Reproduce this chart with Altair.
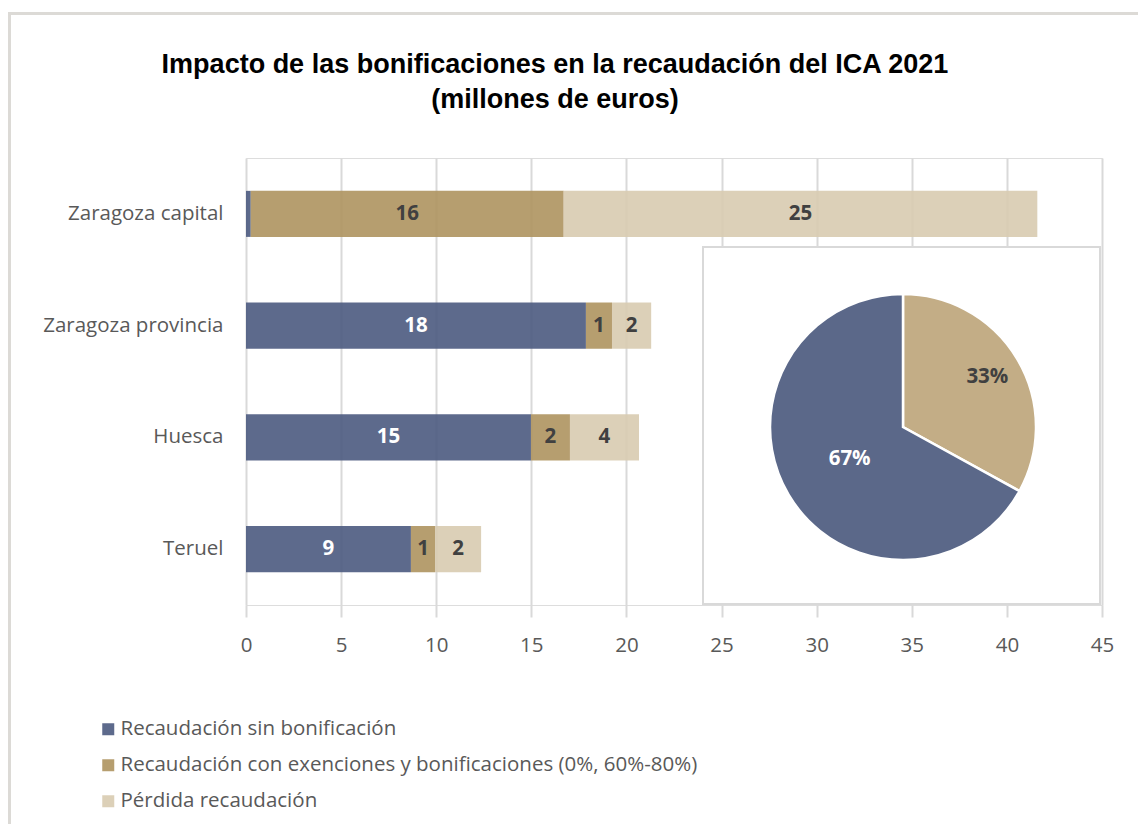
import altair as alt
import pandas as pd

categories = ["Zaragoza capital", "Zaragoza provincia", "Huesca", "Teruel"]
series = [
    "Recaudación sin bonificación",
    "Recaudación con exenciones y bonificaciones (0%, 60%-80%)",
    "Pérdida recaudación",
]
sin_bonif = [0.25, 17.87, 14.98, 8.67]
con_bonif = [16.45, 1.37, 2.05, 1.27]
perdida = [24.9, 2.06, 3.63, 2.42]

pie_names = ["Recaudación con exenciones y bonificaciones", "Recaudación sin bonificación"]
pie_values = [33, 67]
pie_label_radius = [98, 62]

title_lines = ["Impacto de las bonificaciones  en la recaudación del ICA 2021",
               "(millones de euros)"]

x_ticks = [0, 5, 10, 15, 20, 25, 30, 35, 40, 45]

bar_colors = ["#4B5A80", "#AE935F", "#D8CBB0"]
pie_colors = ["#C3AD86", "#5B6889"]

rows = []
for i, cat in enumerate(categories):
    for j, vals in enumerate([sin_bonif, con_bonif, perdida]):
        rows.append({"cat": cat, "serie": series[j], "ord": j, "value": vals[i]})
df = pd.DataFrame(rows)

pie_df = pd.DataFrame({"name": pie_names, "value": pie_values, "ord": [0, 1],
                       "r": pie_label_radius})

FONT = "Open Sans"
FS = 20.5
CX, CY = 657, 269
TWO_PI = 6.283185307179586

border = alt.Chart(pd.DataFrame({"a": [0]})).mark_rect(
    fill=None, stroke="#DCDAD6", strokeWidth=3
).encode(x=alt.value(-236.5), x2=alt.value(930), y=alt.value(-144.5), y2=alt.value(700))

title1 = alt.Chart(pd.DataFrame({"t": [title_lines[0]]})).mark_text(
    fontSize=27, fontWeight="bold", font="Liberation Sans", color="#000000", baseline="middle"
).encode(text="t:N", x=alt.value(309), y=alt.value(-93))
title2 = alt.Chart(pd.DataFrame({"t": [title_lines[1]]})).mark_text(
    fontSize=27, fontWeight="bold", font="Liberation Sans", color="#000000", baseline="middle"
).encode(text="t:N", x=alt.value(309), y=alt.value(-58))

bars = alt.Chart(df).mark_bar(opacity=0.9).encode(
    y=alt.Y("cat:N", sort=categories,
            scale=alt.Scale(paddingInner=0.588, paddingOuter=0.294),
            axis=alt.Axis(title=None, ticks=False, domain=False, labelFontSize=FS,
                          labelColor="#595959", labelFont=FONT, labelPadding=23,
                          labelLimit=400)),
    x=alt.X("value:Q", stack="zero",
            scale=alt.Scale(domain=[0, 45], nice=False),
            axis=alt.Axis(title=None, values=x_ticks, grid=True, gridColor="#D9D9D9",
                          gridWidth=2, tickColor="#D9D9D9", tickWidth=2, tickSize=12,
                          domain=False, labelFontSize=FS, labelColor="#595959",
                          labelFont=FONT, labelPadding=18, labelFlush=False)),
    color=alt.Color("serie:N", scale=alt.Scale(domain=series, range=bar_colors),
                    legend=alt.Legend(title=None, orient="none", legendX=-148, legendY=561,
                                      direction="vertical", symbolType="square",
                                      symbolSize=144, symbolStrokeWidth=0,
                                      labelFontSize=FS, labelColor="#595959",
                                      labelFont=FONT, rowPadding=15, labelLimit=900,
                                      labelOffset=2, symbolOpacity=0.9)),
    order=alt.Order("ord:Q"),
)

labels = alt.Chart(df).transform_stack(
    stack="value", groupby=["cat"], as_=["x0", "x1"], sort=[alt.SortField("ord")]
).transform_calculate(
    mid="(datum.x0 + datum.x1) / 2", label="format(datum.value, '.0f')"
).transform_filter("datum.value >= 0.5").mark_text(
    fontSize=FS, fontWeight="bold", font=FONT
).encode(
    y=alt.Y("cat:N", sort=categories),
    x=alt.X("mid:Q"),
    text="label:N",
    color=alt.condition(alt.datum.ord == 0, alt.value("white"), alt.value("#404040")),
)

box = alt.Chart(pd.DataFrame({"a": [0]})).mark_rect(
    fill="white", stroke="#D9D9D9", strokeWidth=2
).encode(x=alt.value(457), x2=alt.value(854), y=alt.value(89), y2=alt.value(446))

theta_scale = alt.Scale(domain=[0, 100], range=[0, TWO_PI])

pie = alt.Chart(pie_df).mark_arc(outerRadius=133, stroke="white", strokeWidth=2.5).encode(
    theta=alt.Theta("value:Q", stack=True, scale=theta_scale),
    color=alt.Color("name:N", scale=alt.Scale(domain=pie_names, range=pie_colors), legend=None),
    order=alt.Order("ord:Q"),
    x=alt.value(CX), y=alt.value(CY),
)

pie_text = alt.Chart(pie_df).transform_stack(
    stack="value", groupby=[], as_=["t0", "t1"], sort=[alt.SortField("ord")]
).transform_calculate(
    tm="(datum.t0 + datum.t1) / 2", lab="datum.value + '%'"
).mark_text(fontSize=FS, fontWeight="bold", font=FONT).encode(
    theta=alt.Theta("tm:Q", stack=None, scale=theta_scale),
    radius=alt.Radius("r:Q", scale=None),
    text="lab:N",
    color=alt.condition(alt.datum.ord == 1, alt.value("white"), alt.value("#404040")),
    x=alt.value(CX), y=alt.value(CY),
)

chart = alt.layer(border, title1, title2, bars, labels, box, pie, pie_text).resolve_scale(
    color="independent"
).properties(
    width=856, height=447,
    autosize=alt.AutoSizeParams(type="none"),
    padding={"left": 238, "top": 150, "right": 36, "bottom": 219},
).configure_view(stroke=None).configure(background="white")

chart.save("out.html", embed_options={"renderer": "svg", "actions": False})
